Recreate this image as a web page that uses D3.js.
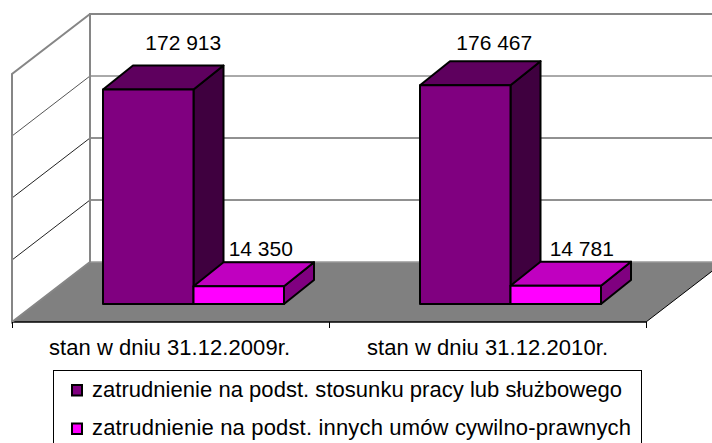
<!DOCTYPE html>
<html><head><meta charset="utf-8">
<script src="https://cdnjs.cloudflare.com/ajax/libs/d3/7.8.5/d3.min.js"></script>
<style>html,body{margin:0;padding:0;background:#fff}svg{display:block}text{font-family:"Liberation Sans",Arial,sans-serif;fill:#000}</style>
</head><body><svg id="c" width="712" height="443"></svg>
<script>
const categories = ["stan w dniu 31.12.2009r.", "stan w dniu 31.12.2010r."];
const seriesNames = ["zatrudnienie na podst. stosunku pracy lub służbowego", "zatrudnienie na podst. innych umów cywilno-prawnych"];
const employment = [172913, 176467];
const civilContracts = [14350, 14781];
const valueTicks = [0, 50000, 100000, 150000, 200000];
const seriesValues = [employment, civilContracts];

const palette = [
  {front:"#800080", top:"#5e005e", side:"#3f003f"},
  {front:"#ff00ff", top:"#c000c0", side:"#800080"}
];
const fmt = v => d3.format(",")(v).replace(",", " ");

const svg = d3.select("#c");
const DY = 60;                     // floor depth
const dx = 30, dy = 24;            // bar depth
const x0 = d3.scaleBand().domain(categories).range([12, 646]);
const x1 = d3.scaleBand().domain([0, 1]).range([91, 272]);
const h = d3.scaleLinear().domain([0, 200000]).range([0, 248]);
const backY = v => 262 - h(v);
const baseY = 304;
const line = d3.line();

// floor
svg.append("path").attr("d", line([[90,262],[724,262],[646,322],[12,322]])+"Z").attr("fill","#808080");
svg.append("path").attr("d", line([[90,262],[712,262]])).attr("stroke","#999").attr("stroke-width",1.5).attr("fill","none");
svg.append("path").attr("d", line([[646,322],[724,262]])).attr("stroke","#000").attr("fill","none");
svg.append("path").attr("d", line([[12,322],[646,322]])).attr("stroke","#000").attr("stroke-width",1.5).attr("fill","none");

// gridlines
valueTicks.slice(1,-1).forEach(v => {
  const y = backY(v);
  svg.append("path").attr("d", line([[12,y+DY],[90,y],[712,y]])).attr("fill","none")
    .attr("stroke", v===150000 ? "#555" : "#222").attr("stroke-width",1);
});
// walls
const wall = "#868686";
svg.append("path").attr("d", line([[90,backY(0)],[90,backY(200000)],[712,backY(200000)]])).attr("fill","none").attr("stroke",wall).attr("stroke-width",2);
svg.append("path").attr("d", line([[90,backY(200000)],[12,backY(200000)+DY],[12,322],[90,262]])).attr("fill","none").attr("stroke",wall).attr("stroke-width",2);

// ticks on category axis
[12,329,646].forEach(x => svg.append("line").attr("x1",x+.5).attr("x2",x+.5).attr("y1",322).attr("y2",328).attr("stroke","#000"));

// bars
categories.forEach((c,i) => {
  seriesValues.forEach((vals,s) => {
    const l = x0(c) + x1(s), r = l + x1.bandwidth(), t = baseY - h(vals[i]);
    const p = palette[s];
    const g = svg.append("g").attr("stroke","#000").attr("stroke-width",2).attr("stroke-linejoin","round");
    g.append("path").attr("fill",p.side).attr("d", line([[r,t],[r+dx,t-dy],[r+dx,baseY-dy],[r,baseY]])+"Z");
    g.append("path").attr("fill",p.top).attr("d", line([[l,t],[l+dx,t-dy],[r+dx,t-dy],[r,t]])+"Z");
    g.append("rect").attr("fill",p.front).attr("x",l).attr("y",t).attr("width",r-l).attr("height",baseY-t);
  });
});

// value labels
const labelY = [50, 256];
const labelNudge = [[5,-1],[-8,-4]];
categories.forEach((c,i) => seriesValues.forEach((vals,s) => {
  svg.append("text").attr("x", x0(c)+x1(s)+x1.bandwidth()/2+dx+labelNudge[s][i]).attr("y",labelY[s])
    .attr("text-anchor","middle").attr("font-size",21).text(fmt(vals[i]));
}));

// category labels
const catNudge = [-1, 0];
categories.forEach((c,i) => svg.append("text").attr("x",x0(c)+x0.bandwidth()/2+catNudge[i]).attr("y",355)
  .attr("text-anchor","middle").attr("font-size",22).attr("textLength",241).text(c));

// legend
const legendWidths = [530, 539];
svg.append("rect").attr("x",53.5).attr("y",370.5).attr("width",588).attr("height",90).attr("fill","#fff").attr("stroke","#000");
seriesNames.forEach((n,i) => {
  const y = 385 + i*38.5;
  svg.append("rect").attr("x",72).attr("y",y).attr("width",10).attr("height",10.5).attr("fill",palette[i].front).attr("stroke","#000").attr("stroke-width",2);
  svg.append("text").attr("x",92).attr("y",y+11.5).attr("font-size",22).attr("textLength",legendWidths[i]).text(n);
});
</script></body></html>
